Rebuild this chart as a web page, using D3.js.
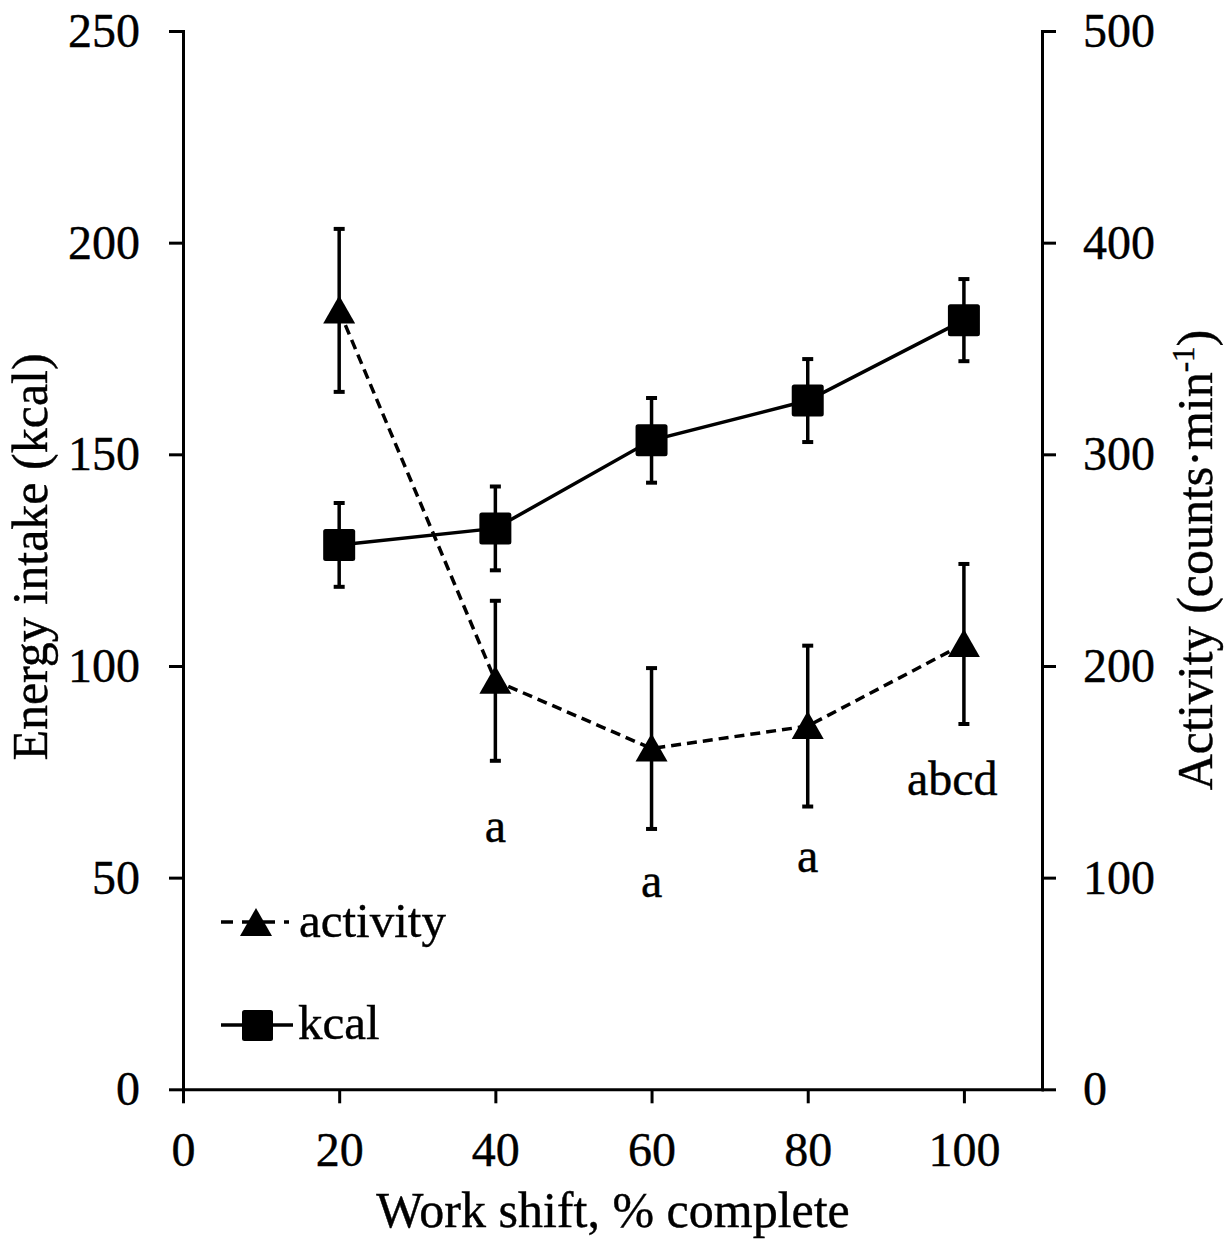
<!DOCTYPE html>
<html>
<head>
<meta charset="utf-8">
<script src="https://cdn.jsdelivr.net/npm/d3@7"></script>
<style>
  body { margin: 0; background: #fff; }
  svg text { font-family: "Liberation Serif", "Times New Roman", serif; fill: #000; stroke: #000; stroke-width: 0.4px; }
  .axis path, .axis line { stroke: #000; stroke-width: 3; }
  .axis text { font-size: 48px; }
  .axis-label { font-size: 50px; }
  .sig { font-size: 48px; }
  .legend text { font-size: 49px; }
</style>
</head>
<body>
<div id="chart"></div>
<script>
// work shift, % complete
const shiftPct = [20, 40, 60, 80, 100];
// energy intake (kcal), left axis
const kcal = [128.6, 132.5, 153.3, 162.7, 181.7];
const kcalErr = [9.9, 9.9, 10, 9.8, 9.7];
// activity (counts/min), right axis
const activity = [368, 193, 161, 171.6, 210.4];
const activityErr = [38.5, 37.8, 38, 38, 37.8];
// significance letters, placed in activity units
const sigText = ["a", "a", "a", "abcd"];
const sigX = [40, 60, 80, 98.5];
const sigY = [116.8, 90.9, 102.7, 139];

const xTicks = [0, 20, 40, 60, 80, 100];
const leftTicks = [0, 50, 100, 150, 200, 250];
const rightTicks = [0, 100, 200, 300, 400, 500];

const W = 1230, H = 1243;
const plot = { left: 183, right: 1042, top: 31, bottom: 1089.3 };

const svg = d3.select("#chart").append("svg")
  .attr("width", W)
  .attr("height", H);

const x = d3.scaleLinear().domain([0, 110]).range([plot.left, plot.right]);
const yL = d3.scaleLinear().domain([0, 250]).range([plot.bottom, plot.top]);
const yR = d3.scaleLinear().domain([0, 500]).range([plot.bottom, plot.top]);

// axes
svg.append("g")
  .attr("class", "axis")
  .attr("transform", `translate(0,${plot.bottom})`)
  .call(d3.axisBottom(x).tickValues(xTicks).tickSize(14).tickSizeOuter(0).tickPadding(29));

svg.append("g")
  .attr("class", "axis")
  .attr("transform", `translate(${plot.left},0)`)
  .call(d3.axisLeft(yL).tickValues(leftTicks).tickSize(14).tickSizeOuter(0).tickPadding(29));

svg.append("g")
  .attr("class", "axis")
  .attr("transform", `translate(${plot.right},0)`)
  .call(d3.axisRight(yR).tickValues(rightTicks).tickSize(14).tickSizeOuter(0).tickPadding(27));

svg.selectAll(".axis .domain").attr("stroke-linecap", "square");
svg.selectAll(".axis text").attr("fill", "#000");

// axis titles
svg.append("text")
  .attr("class", "axis-label")
  .attr("x", 613)
  .attr("y", 1227)
  .attr("text-anchor", "middle")
  .text("Work shift, % complete");

svg.append("text")
  .attr("class", "axis-label")
  .attr("transform", "translate(47,557) rotate(-90)")
  .attr("text-anchor", "middle")
  .text("Energy intake (kcal)");

const rTitle = svg.append("text")
  .attr("class", "axis-label")
  .attr("transform", "translate(1212,560) rotate(-90)")
  .attr("text-anchor", "middle");
rTitle.append("tspan").text("Activity (counts\u00b7min");
rTitle.append("tspan").attr("font-size", "31px").attr("dy", "-18").text("-1");
rTitle.append("tspan").attr("dy", "18").text(")");

const kcalPts = shiftPct.map((s, i) => ({ x: s, y: kcal[i], e: kcalErr[i] }));
const actPts = shiftPct.map((s, i) => ({ x: s, y: activity[i], e: activityErr[i] }));

const triangle = (cx, cy) => `M${cx},${cy - 15}L${cx + 16},${cy + 13}L${cx - 16},${cy + 13}Z`;

// lines
svg.append("path")
  .datum(actPts)
  .attr("fill", "none")
  .attr("stroke", "#000")
  .attr("stroke-width", 3.5)
  .attr("stroke-dasharray", "10,6")
  .attr("d", d3.line().x(d => x(d.x)).y(d => yR(d.y)));

svg.append("path")
  .datum(kcalPts)
  .attr("fill", "none")
  .attr("stroke", "#000")
  .attr("stroke-width", 3.5)
  .attr("d", d3.line().x(d => x(d.x)).y(d => yL(d.y)));

// error bars
function errorBars(pts, y) {
  const g = svg.append("g").attr("stroke", "#000").attr("stroke-width", 3.5);
  pts.forEach(d => {
    const cx = x(d.x);
    g.append("line").attr("x1", cx).attr("x2", cx)
      .attr("y1", y(d.y - d.e)).attr("y2", y(d.y + d.e));
    [d.y - d.e, d.y + d.e].forEach(v => {
      g.append("line").attr("x1", cx - 5.5).attr("x2", cx + 5.5)
        .attr("y1", y(v)).attr("y2", y(v)).attr("stroke-width", 4);
    });
  });
}
errorBars(actPts, yR);
errorBars(kcalPts, yL);

// markers
svg.selectAll("path.tri")
  .data(actPts)
  .enter().append("path")
  .attr("class", "tri")
  .attr("d", d => triangle(x(d.x), yR(d.y)));

svg.selectAll("rect.sq")
  .data(kcalPts)
  .enter().append("rect")
  .attr("class", "sq")
  .attr("x", d => x(d.x) - 16)
  .attr("y", d => yL(d.y) - 16)
  .attr("width", 32)
  .attr("height", 32)
  .attr("rx", 2.5);

// significance letters
svg.selectAll("text.sig")
  .data(sigText)
  .enter().append("text")
  .attr("class", "sig")
  .attr("x", (d, i) => x(sigX[i]))
  .attr("y", (d, i) => yR(sigY[i]))
  .attr("text-anchor", "middle")
  .text(d => d);

// legend
const legend = svg.append("g").attr("class", "legend");
legend.append("line")
  .attr("x1", 221).attr("x2", 289).attr("y1", 922).attr("y2", 922)
  .attr("stroke", "#000").attr("stroke-width", 3.5).attr("stroke-dasharray", "12,9");
legend.append("path").attr("d", triangle(256, 923));
legend.append("text").attr("x", 299).attr("y", 937).text("activity");

legend.append("line")
  .attr("x1", 221).attr("x2", 293).attr("y1", 1025).attr("y2", 1025)
  .attr("stroke", "#000").attr("stroke-width", 3.5);
legend.append("rect")
  .attr("x", 242).attr("y", 1010).attr("width", 31).attr("height", 31).attr("rx", 2.5);
legend.append("text").attr("x", 298).attr("y", 1039).text("kcal");
</script>
</body>
</html>
